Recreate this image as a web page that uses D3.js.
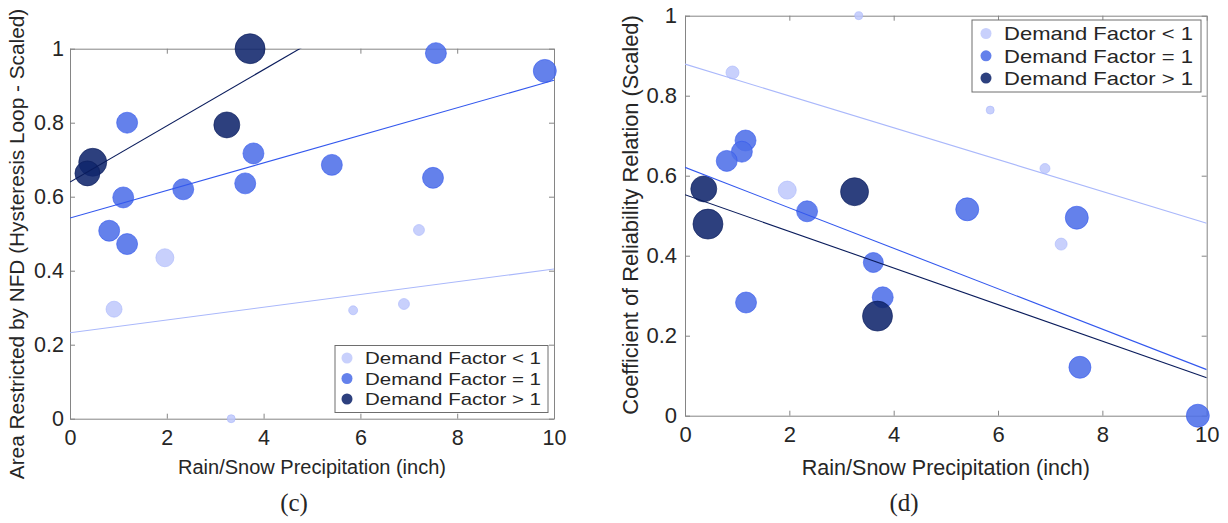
<!DOCTYPE html>
<html>
<head>
<meta charset="utf-8">
<script src="https://cdn.jsdelivr.net/npm/d3@7"></script>
<style>
  body { margin: 0; background: #fff; }
  text { font-family: "Liberation Sans", Arial, sans-serif; fill: #262626; }
</style>
</head>
<body>
<svg id="fig" width="1228" height="523"></svg>
<script>
// shared
const xTicks = [0, 2, 4, 6, 8, 10];
const yTicks = [0, 0.2, 0.4, 0.6, 0.8, 1];
const groupNames = ["Demand Factor < 1", "Demand Factor = 1", "Demand Factor > 1"];

// panel (c): area restricted by NFD
const cLowX = [0.91, 1.96, 3.33, 5.85, 6.90, 7.21];
const cLowY = [0.296, 0.435, 0.0, 0.293, 0.31, 0.51];
const cLowW = [64, 81, 16, 20, 30, 30];
const cMidX = [1.18, 3.79, 1.10, 2.34, 3.62, 0.81, 1.18, 7.56, 9.81, 5.41, 7.50];
const cMidY = [0.80, 0.717, 0.598, 0.62, 0.636, 0.508, 0.472, 0.988, 0.94, 0.686, 0.651];
const cMidW = [110, 110, 110, 110, 110, 110, 110, 110, 132, 110, 110];
const cHighX = [3.72, 3.24, 0.47, 0.36];
const cHighY = [1.0, 0.794, 0.693, 0.663];
const cHighW = [225, 169, 196, 156];

// panel (d): coefficient of reliability relation
const dLowX = [3.33, 0.91, 1.96, 5.85, 6.90, 7.21];
const dLowY = [1.0, 0.858, 0.564, 0.764, 0.618, 0.429];
const dLowW = [16, 42, 81, 16, 25, 36];
const dMidX = [1.16, 1.09, 0.80, 2.34, 5.41, 7.51, 7.57, 9.83, 3.61, 3.79, 1.17];
const dMidY = [0.688, 0.66, 0.637, 0.511, 0.516, 0.495, 0.121, 0.0, 0.383, 0.296, 0.283];
const dMidW = [110, 110, 110, 110, 132, 132, 121, 132, 100, 110, 110];
const dHighX = [0.36, 0.44, 3.25, 3.69];
const dHighY = [0.567, 0.479, 0.56, 0.249];
const dHighW = [169, 225, 196, 225];

const fills = ["#bec8fb", "#4f70e8", "#10256c"];
const edges = ["#aab8fb", "#3358ee", "#0a1c5c"];
const alphas = [0.85, 0.88, 0.88];

function fit(xs, ys) {
  const mx = d3.mean(xs), my = d3.mean(ys);
  let sxy = 0, sxx = 0;
  xs.forEach((x, i) => { sxy += (x - mx) * (ys[i] - my); sxx += (x - mx) * (x - mx); });
  const b = sxy / sxx;
  return { b: b, a: my - b * mx };
}

const svg = d3.select("#fig");

function panel(cfg) {
  const x = d3.scaleLinear().domain([0, 10]).range([cfg.left, cfg.right]);
  const y = d3.scaleLinear().domain([0, 1]).range([cfg.bottom, cfg.top]);
  const r = d3.scaleSqrt().domain([0, 100]).range([0, 10]);
  const g = svg.append("g");

  g.append("clipPath").attr("id", cfg.id + "clip")
    .append("rect")
    .attr("x", cfg.left).attr("y", cfg.top)
    .attr("width", cfg.right - cfg.left).attr("height", cfg.bottom - cfg.top);

  // axes box and inward ticks on every side
  const axisColor = "#858585";
  g.append("g").attr("transform", "translate(0," + cfg.bottom + ")")
    .call(d3.axisBottom(x).tickValues(xTicks).tickSizeInner(-5).tickSizeOuter(0).tickPadding(11).tickFormat(d3.format("d")))
    .call(a => a.selectAll("text").attr("font-size", cfg.tickFont).attr("fill", "#262626").attr("font-family", "Liberation Sans, Arial"));
  g.append("g").attr("transform", "translate(" + cfg.left + ",0)")
    .call(d3.axisLeft(y).tickValues(yTicks).tickSizeInner(-5).tickSizeOuter(0).tickPadding(cfg.yPad).tickFormat(d => d3.format("")(+d.toFixed(1))))
    .call(a => a.selectAll("text").attr("font-size", cfg.tickFont).attr("fill", "#262626").attr("font-family", "Liberation Sans, Arial"));
  g.append("g").attr("transform", "translate(0," + cfg.top + ")")
    .call(d3.axisTop(x).tickValues(xTicks).tickSizeInner(-5).tickSizeOuter(0).tickFormat(""));
  g.append("g").attr("transform", "translate(" + cfg.right + ",0)")
    .call(d3.axisRight(y).tickValues(yTicks).tickSizeInner(-5).tickSizeOuter(0).tickFormat(""));
  g.selectAll(".domain, .tick line").attr("stroke", axisColor).attr("stroke-width", 1);

  // scatter groups
  cfg.groups.forEach((grp, k) => {
    const pts = grp.x.map((v, i) => ({ x: v, y: grp.y[i], w: grp.w[i] }));
    g.append("g").selectAll("circle")
      .data(pts)
      .join("circle")
      .attr("cx", d => x(d.x))
      .attr("cy", d => y(d.y))
      .attr("r", d => r(d.w))
      .attr("fill", fills[k])
      .attr("fill-opacity", alphas[k])
      .attr("stroke", edges[k])
      .attr("stroke-opacity", 0.6)
      .attr("stroke-width", 1);
  });

  // least-squares lines
  cfg.groups.forEach((grp, k) => {
    const f = fit(grp.x, grp.y);
    g.append("line")
      .attr("clip-path", "url(#" + cfg.id + "clip)")
      .attr("x1", x(0)).attr("y1", y(f.a))
      .attr("x2", x(10)).attr("y2", y(f.a + f.b * 10))
      .attr("stroke", edges[k])
      .attr("stroke-width", 1.1);
  });

  // legend (glyphs in the original are a little wide, so stretch to length)
  const lg = g.append("g").attr("transform", "translate(" + cfg.legX + "," + cfg.legY + ")");
  lg.append("rect").attr("width", cfg.legW).attr("height", cfg.legH)
    .attr("fill", "#fff").attr("stroke", "#6e6e6e").attr("stroke-width", 1);
  groupNames.forEach((name, k) => {
    const cy = cfg.legRow0 + k * cfg.legStep;
    lg.append("circle").attr("cx", cfg.legMark).attr("cy", cy).attr("r", 5.5)
      .attr("fill", fills[k]).attr("fill-opacity", alphas[k]);
    lg.append("text").attr("x", cfg.legText).attr("y", cy).attr("dy", "0.36em")
      .attr("font-size", cfg.legFont)
      .attr("textLength", cfg.legLen).attr("lengthAdjust", "spacingAndGlyphs")
      .text(name);
  });

  // titles
  g.append("text")
    .attr("x", (cfg.left + cfg.right) / 2).attr("y", cfg.xTitleY)
    .attr("text-anchor", "middle").attr("font-size", cfg.titleFont)
    .text("Rain/Snow Precipitation (inch)");
  g.append("text")
    .attr("transform", "translate(" + cfg.yTitleX + "," + cfg.yTitleY + ") rotate(-90)")
    .attr("text-anchor", "middle").attr("font-size", cfg.yTitleFont)
    .text(cfg.yTitle);
  g.append("text")
    .attr("x", cfg.capX).attr("y", 511)
    .attr("text-anchor", "middle")
    .style("font-family", "'Liberation Serif', 'Times New Roman', serif")
    .attr("font-size", 25).attr("fill", "#000")
    .text(cfg.caption);
}

panel({
  id: "c", left: 70, right: 554, top: 48.7, bottom: 418.7,
  tickFont: 21.5, yPad: 6, titleFont: 20, yTitleFont: 20.8, legFont: 17, legLen: 176,
  groups: [{ x: cLowX, y: cLowY, w: cLowW }, { x: cMidX, y: cMidY, w: cMidW }, { x: cHighX, y: cHighY, w: cHighW }],
  legX: 335, legY: 345.5, legW: 213, legH: 67, legMark: 12, legText: 30, legRow0: 12.5, legStep: 20.5,
  xTitleY: 474, yTitle: "Area Restricted by NFD (Hysteresis Loop - Scaled)", yTitleX: 24, yTitleY: 244,
  capX: 294, caption: "(c)"
});

panel({
  id: "d", left: 685, right: 1206.7, top: 15.7, bottom: 415.7,
  tickFont: 22, yPad: 8, titleFont: 21.5, yTitleFont: 21.8, legFont: 19, legLen: 189,
  groups: [{ x: dLowX, y: dLowY, w: dLowW }, { x: dMidX, y: dMidY, w: dMidW }, { x: dHighX, y: dHighY, w: dHighW }],
  legX: 972, legY: 20, legW: 229, legH: 72, legMark: 14, legText: 32, legRow0: 13.5, legStep: 22.3,
  xTitleY: 475, yTitle: "Coefficient of Reliability Relation (Scaled)", yTitleX: 638, yTitleY: 215,
  capX: 904, caption: "(d)"
});
</script>
</body>
</html>
